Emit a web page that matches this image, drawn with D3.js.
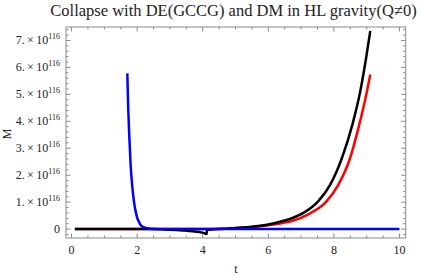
<!DOCTYPE html>
<html><head><meta charset="utf-8">
<script src="https://cdn.jsdelivr.net/npm/d3@7"></script>
<style>body{margin:0;background:#fff}svg{display:block}</style>
</head><body><div id="c"></div>
<script>
const title = "Collapse with DE(GCCG) and DM in HL gravity(Q\u22600)";
const xLabel = "t", yLabel = "M";
const xTicks = [0, 2, 4, 6, 8, 10];
const yTicks = [0, 1, 2, 3, 4, 5, 6, 7]; // in units of 10^116
const yExp = "116";

// Series (t, M/1e116)
const redT = [0.1, 1.0, 2.0, 3.0, 4.0, 4.5, 5.0, 5.5, 6.0, 6.4, 6.76, 7.22, 7.76, 8.13, 8.49, 8.77, 8.98, 9.11];
const redM = [0, 0, 0, 0, 0, 0.01, 0.03, 0.07, 0.14, 0.22, 0.32, 0.55, 1.01, 1.63, 2.62, 3.86, 4.95, 5.74];

const blackT = [0.1, 1.0, 2.0, 2.5, 3.0, 3.4, 3.7, 3.9, 4.05, 4.12, 4.125, 4.5, 5.0, 5.5, 6.0, 6.36, 6.66, 7.07, 7.52, 7.88, 8.24, 8.56, 8.80, 8.98, 9.11];
const blackM = [0, 0, 0, 0, -0.02, -0.05, -0.08, -0.11, -0.15, -0.18, -0.03, 0.0, 0.04, 0.09, 0.17, 0.27, 0.38, 0.60, 1.03, 1.63, 2.62, 3.86, 5.09, 6.33, 7.35];

const blueT = [1.70, 1.73, 1.76, 1.80, 1.85, 1.90, 1.95, 2.00, 2.05, 2.10, 2.20, 2.30, 2.40, 2.60, 3.0, 4.0, 5.0, 6.0, 7.0, 8.0, 9.0, 10.0];
const blueM = [5.78, 4.40, 3.45, 2.40, 1.60, 1.05, 0.68, 0.43, 0.28, 0.16, 0.07, 0.03, 0.01, 0, 0, 0, 0, 0, 0, 0, 0, 0];

const FONT = "Liberation Serif, serif";
const W = 421, H = 277;
const L = 66, R = 405.7, T = 27, B = 238;
const x = d3.scaleLinear().domain([-0.17, 10.19]).range([L, R]);
const y = d3.scaleLinear().domain([-0.33, 7.5]).range([B, T]);

const svg = d3.select("#c").append("svg").attr("width", W).attr("height", H);
svg.append("rect").attr("width", W).attr("height", H).attr("fill", "#fff");

svg.append("clipPath").attr("id", "clip").append("rect")
  .attr("x", L).attr("y", T).attr("width", R - L).attr("height", B - T);

const frameColor = "#8a8a8a";
const g = svg.append("g");
const xMinor = d3.range(0, 10.001, 0.5);
const yMinor = d3.range(-0.2, 7.41, 0.2).map(v => Math.round(v * 10) / 10);
const isMajorX = v => Math.abs(v / 2 - Math.round(v / 2)) < 1e-6;
const isMajorY = v => Math.abs(v - Math.round(v)) < 1e-6;
xMinor.forEach(v => {
  const len = isMajorX(v) ? 4.5 : 2.5;
  g.append("line").attr("x1", x(v)).attr("x2", x(v)).attr("y1", B).attr("y2", B - len).attr("stroke", frameColor);
  g.append("line").attr("x1", x(v)).attr("x2", x(v)).attr("y1", T).attr("y2", T + len).attr("stroke", frameColor);
});
yMinor.forEach(v => {
  const len = isMajorY(v) ? 4.5 : 2.5;
  g.append("line").attr("y1", y(v)).attr("y2", y(v)).attr("x1", L).attr("x2", L + len).attr("stroke", frameColor);
  g.append("line").attr("y1", y(v)).attr("y2", y(v)).attr("x1", R).attr("x2", R - len).attr("stroke", frameColor);
});
g.append("rect").attr("x", L).attr("y", T).attr("width", R - L).attr("height", B - T)
  .attr("fill", "none").attr("stroke", frameColor).attr("stroke-width", 1);

const txt = (sel) => sel.append("text").attr("font-family", FONT).attr("fill", "#222");

xTicks.forEach(v => {
  txt(svg).attr("x", x(v)).attr("y", 254).attr("text-anchor", "middle")
    .attr("font-size", 12).text(v);
});
yTicks.forEach(v => {
  const t = txt(svg).attr("x", 60).attr("y", y(v) + 4).attr("text-anchor", "end").attr("font-size", 12);
  if (v === 0) { t.text("0"); return; }
  t.append("tspan").text(v + ".\u2009\u00d7\u200910");
  t.append("tspan").attr("dy", -5).attr("font-size", 8).text(yExp);
});

const line = d3.line().x(d => x(d[0])).y(d => y(d[1])).curve(d3.curveMonotoneX);
const series = [
  {t: redT, m: redM, c: "#ff0000"},
  {t: blackT, m: blackM, c: "#000000"},
  {t: blueT, m: blueM, c: "#0000ff"}
];
const pg = svg.append("g").attr("clip-path", "url(#clip)");
series.forEach(s => {
  pg.append("path").datum(s.t.map((t, i) => [t, s.m[i]]))
    .attr("d", line).attr("fill", "none").attr("stroke", s.c).attr("stroke-width", 2.5)
    .attr("stroke-linejoin", "round");
});

txt(svg).attr("x", 233.5).attr("y", 16).attr("text-anchor", "middle").attr("font-size", 16.5).text(title);
txt(svg).attr("x", 236).attr("y", 273).attr("text-anchor", "middle").attr("font-size", 12).text(xLabel);
txt(svg).attr("transform", "translate(11,134) rotate(-90)").attr("text-anchor", "middle").attr("font-size", 12).text(yLabel);
</script></body></html>
